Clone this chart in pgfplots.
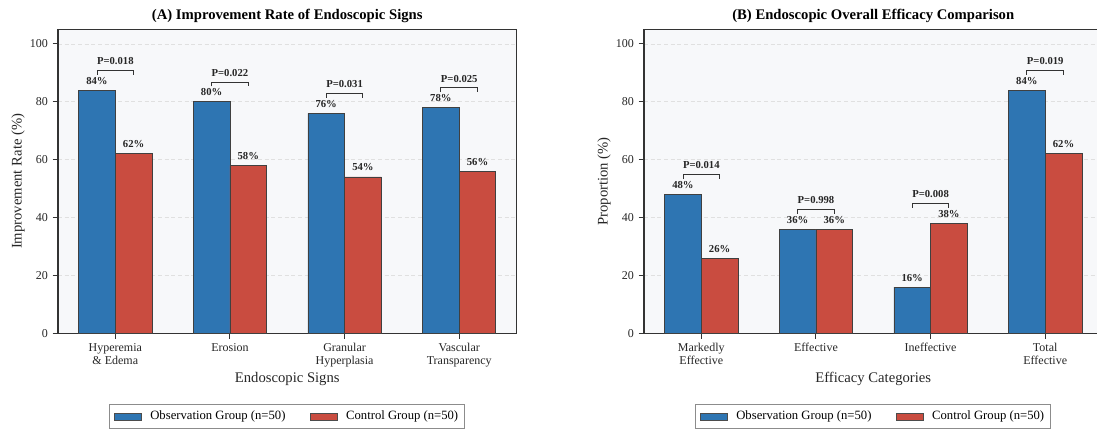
\documentclass[border=0pt]{standalone}
\usepackage{pgfplots}
\pgfplotsset{compat=1.18}
\usepackage{fontspec}
\setmainfont{Liberation Serif}

\definecolor{obsblue}{RGB}{46,117,178}
\definecolor{ctlred}{RGB}{201,76,64}
\definecolor{bgcol}{RGB}{247,248,250}
\definecolor{axiscol}{RGB}{51,51,51}

\pgfplotsset{
  panel/.style={
    scale only axis, width=343.9pt, height=228pt,
    ymin=0, ymax=105, xmin=-0.5, xmax=3.5,
    xtick={0,1,2,3}, ytick={0,20,40,60,80,100},
    tick align=outside, xtick pos=bottom, ytick pos=left,
    major tick length=4pt,
    axis line style={draw=axiscol, line width=0.9pt},
    tick style={draw=axiscol, line width=0.7pt},
    axis background/.style={fill=bgcol},
    ymajorgrids, grid style={densely dashed, black!12, line width=0.4pt},
    /pgf/number format/assume math mode=true,
    ticklabel style={font=\fontsize{9}{9.75}\selectfont, text=black!85},
    xticklabel style={align=center},
    label style={font=\fontsize{11}{13}\selectfont, text=black!85},
    xlabel style={at={(axis description cs:0.5,-0.151)}, anchor=center},
    ylabel style={at={(axis description cs:-0.0872,0.5)}, anchor=center},
    title style={at={(0.5,1)}, anchor=base, yshift=1.5pt,
      font=\fontsize{11}{13}\selectfont\bfseries},
    ybar, bar width=0.32,
    nodes near coords={\pgfmathprintnumber{\pgfplotspointmeta}\%},
    nodes near coords style={font=\fontsize{8}{9}\selectfont\bfseries,
      text=black!85, inner sep=0pt, anchor=base, yshift=4.5pt},
    legend style={at={(0.5,-0.2326)}, anchor=north, legend columns=2,
      draw=black!45, line width=0.6pt, fill=white,
      font=\fontsize{9.5}{11}\selectfont, inner xsep=3pt, inner ysep=3pt,
      /tikz/every odd column/.append style={column sep=4.5pt},
      /tikz/every even column/.append style={column sep=16pt}},
    legend image code/.code={\draw[#1, draw=black!70, line width=0.5pt]
      (0pt,-2.75pt) rectangle (20.5pt,2.75pt);},
  },
  obs/.style={fill=obsblue, draw=black!75, line width=0.6pt, bar shift=-0.16},
  ctl/.style={fill=ctlred, draw=black!75, line width=0.6pt, bar shift=0.16},
}

\tikzset{
  brk/.style={draw=axiscol, line width=0.7pt},
  plabel/.style={font=\fontsize{8}{9}\selectfont\bfseries, text=black!85,
    inner sep=0pt, anchor=base, yshift=4.3pt},
}

% significance bracket over a group: centre x, taller bar, p value
\newcommand{\pbracket}[3]{%
  \draw[brk] (axis cs:#1-0.16,#2+5.3) |- (axis cs:#1+0.16,#2+6.8)
    -- (axis cs:#1+0.16,#2+5.3);
  \node[plabel] at (axis cs:#1,#2+6.8) {P=#3};
}

\begin{document}
\begin{tikzpicture}
\useasboundingbox (0,0) rectangle (822.75pt,-322.5pt);
\clip (0,0) rectangle (822.75pt,-322.5pt);

% (A) improvement rate of the individual endoscopic signs
\begin{axis}[panel, at={(43.5pt,-250pt)}, anchor=south west,
  title={(A) Improvement Rate of Endoscopic Signs},
  xlabel={Endoscopic Signs}, ylabel={Improvement Rate (\%)},
  xticklabels={{Hyperemia\\\& Edema}, Erosion, {Granular\\Hyperplasia}, {Vascular\\Transparency}}]
\addplot[obs] coordinates {(0,84) (1,80) (2,76) (3,78)};
\addplot[ctl] coordinates {(0,62) (1,58) (2,54) (3,56)};
\legend{Observation Group (n=50), Control Group (n=50)}
\pbracket{0}{84}{0.018}
\pbracket{1}{80}{0.022}
\pbracket{2}{76}{0.031}
\pbracket{3}{78}{0.025}
\end{axis}

% (B) overall endoscopic efficacy
\begin{axis}[panel, at={(483pt,-250pt)}, anchor=south west,
  title={(B) Endoscopic Overall Efficacy Comparison},
  xlabel={Efficacy Categories}, ylabel={Proportion (\%)},
  xticklabels={{Markedly\\Effective}, Effective, Ineffective, {Total\\Effective}}]
\addplot[obs] coordinates {(0,48) (1,36) (2,16) (3,84)};
\addplot[ctl] coordinates {(0,26) (1,36) (2,38) (3,62)};
\legend{Observation Group (n=50), Control Group (n=50)}
\pbracket{0}{48}{0.014}
\pbracket{1}{36}{0.998}
\pbracket{2}{38}{0.008}
\pbracket{3}{84}{0.019}
\end{axis}
\end{tikzpicture}
\end{document}
